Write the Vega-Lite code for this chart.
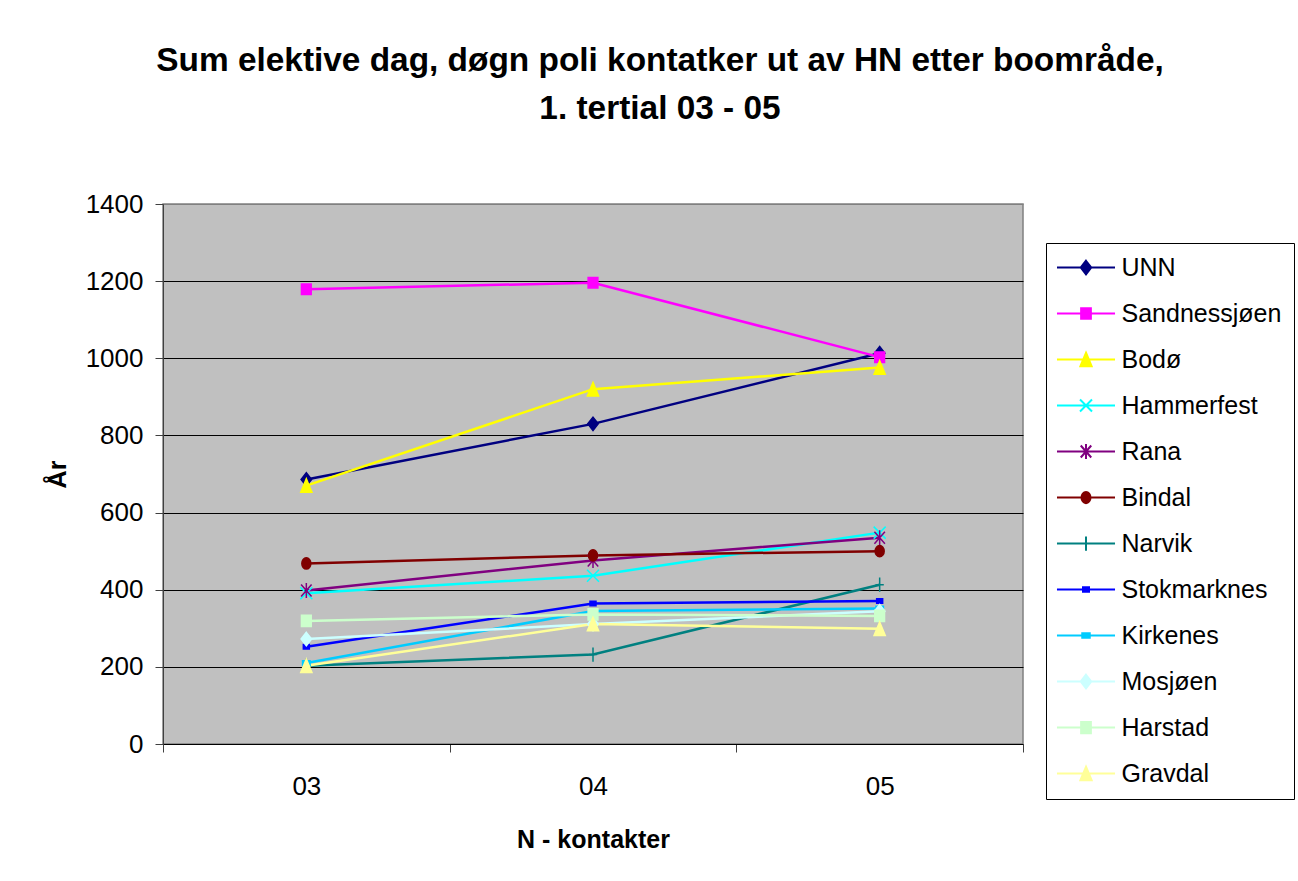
{
  "$schema": "https://vega.github.io/schema/vega-lite/v6.json",
  "width": 860,
  "height": 540,
  "autosize": {"type": "none"},
  "padding": {"left": 163, "top": 204, "right": 275, "bottom": 137},
  "background": "white",
  "title": {
    "text": ["Sum elektive dag, døgn poli kontatker ut av HN etter boområde,", "1. tertial 03 - 05"],
    "font": "Liberation Sans",
    "fontSize": 33.4,
    "fontWeight": "bold",
    "color": "black",
    "anchor": "middle",
    "dx": 67,
    "offset": 65,
    "lineHeight": 48
  },
  "data": {
    "values": [
      {"omrade": "UNN", "ar": "03", "verdi": 686},
      {"omrade": "UNN", "ar": "04", "verdi": 830},
      {"omrade": "UNN", "ar": "05", "verdi": 1013},
      {"omrade": "Sandnessjøen", "ar": "03", "verdi": 1179},
      {"omrade": "Sandnessjøen", "ar": "04", "verdi": 1196},
      {"omrade": "Sandnessjøen", "ar": "05", "verdi": 1003},
      {"omrade": "Bodø", "ar": "03", "verdi": 670},
      {"omrade": "Bodø", "ar": "04", "verdi": 920},
      {"omrade": "Bodø", "ar": "05", "verdi": 976},
      {"omrade": "Hammerfest", "ar": "03", "verdi": 391},
      {"omrade": "Hammerfest", "ar": "04", "verdi": 436},
      {"omrade": "Hammerfest", "ar": "05", "verdi": 548},
      {"omrade": "Rana", "ar": "03", "verdi": 398},
      {"omrade": "Rana", "ar": "04", "verdi": 476},
      {"omrade": "Rana", "ar": "05", "verdi": 535},
      {"omrade": "Bindal", "ar": "03", "verdi": 468},
      {"omrade": "Bindal", "ar": "04", "verdi": 489},
      {"omrade": "Bindal", "ar": "05", "verdi": 500},
      {"omrade": "Narvik", "ar": "03", "verdi": 203},
      {"omrade": "Narvik", "ar": "04", "verdi": 232},
      {"omrade": "Narvik", "ar": "05", "verdi": 413},
      {"omrade": "Stokmarknes", "ar": "03", "verdi": 252},
      {"omrade": "Stokmarknes", "ar": "04", "verdi": 364},
      {"omrade": "Stokmarknes", "ar": "05", "verdi": 371},
      {"omrade": "Kirkenes", "ar": "03", "verdi": 210},
      {"omrade": "Kirkenes", "ar": "04", "verdi": 345},
      {"omrade": "Kirkenes", "ar": "05", "verdi": 351},
      {"omrade": "Mosjøen", "ar": "03", "verdi": 272},
      {"omrade": "Mosjøen", "ar": "04", "verdi": 311},
      {"omrade": "Mosjøen", "ar": "05", "verdi": 344},
      {"omrade": "Harstad", "ar": "03", "verdi": 319},
      {"omrade": "Harstad", "ar": "04", "verdi": 336},
      {"omrade": "Harstad", "ar": "05", "verdi": 332},
      {"omrade": "Gravdal", "ar": "03", "verdi": 203},
      {"omrade": "Gravdal", "ar": "04", "verdi": 311},
      {"omrade": "Gravdal", "ar": "05", "verdi": 299}
    ]
  },
  "encoding": {
    "x": {
      "field": "ar",
      "type": "ordinal",
      "scale": {"type": "band", "paddingInner": 0, "paddingOuter": 0},
      "bandPosition": 0.5,
      "axis": {
        "title": "N - kontakter",
        "labelAngle": 0,
        "labelBaseline": "alphabetic",
        "labelPadding": 42,
        "tickBand": "extent",
        "grid": false,
        "domainColor": "#000000",
        "titleX": 430,
        "titleY": 103,
        "titleBaseline": "alphabetic",
        "titleAlign": "center"
      }
    },
    "y": {
      "field": "verdi",
      "type": "quantitative",
      "scale": {"domain": [0, 1400], "nice": false},
      "axis": {
        "title": "År",
        "format": "d",
        "values": [0, 200, 400, 600, 800, 1000, 1200, 1400],
        "grid": true,
        "gridColor": {"condition": {"test": "datum.value == 1400 || datum.value == 0", "value": "#808080"}, "value": "#000000"},
        "gridWidth": 1,
        "labelPadding": 12,
        "titleAngle": -90,
        "titleX": -106,
        "titleY": 270,
        "titleAlign": "center",
        "titleBaseline": "middle"
      }
    }
  },
  "resolve": {"scale": {"fill": "independent", "stroke": "independent", "shape": "independent"}},
  "layer": [
    {
      "mark": {"type": "line", "strokeWidth": 2.5},
      "encoding": {
        "stroke": {
          "field": "omrade",
          "type": "nominal",
          "legend": null,
          "scale": {
            "domain": ["UNN", "Sandnessjøen", "Bodø", "Hammerfest", "Rana", "Bindal", "Narvik", "Stokmarknes", "Kirkenes", "Mosjøen", "Harstad", "Gravdal"],
            "range": ["#000080", "#FF00FF", "#FFFF00", "#00FFFF", "#800080", "#800000", "#008080", "#0000FF", "#00CCFF", "#CCFFFF", "#CCFFCC", "#FFFF99"]
          }
        }
      }
    },
    {
      "mark": {"type": "point", "filled": true, "opacity": 1, "size": 225, "strokeWidth": 1.5},
      "encoding": {
        "fill": {
          "field": "omrade",
          "type": "nominal",
          "legend": null,
          "scale": {
            "domain": ["UNN", "Sandnessjøen", "Bodø", "Hammerfest", "Rana", "Bindal", "Narvik", "Stokmarknes", "Kirkenes", "Mosjøen", "Harstad", "Gravdal"],
            "range": ["#000080", "#FF00FF", "#FFFF00", "#00FFFF", "#800080", "#800000", "#008080", "#0000FF", "#00CCFF", "#CCFFFF", "#CCFFCC", "#FFFF99"]
          }
        },
        "stroke": {
          "field": "omrade",
          "type": "nominal",
          "legend": null,
          "scale": {
            "domain": ["UNN", "Sandnessjøen", "Bodø", "Hammerfest", "Rana", "Bindal", "Narvik", "Stokmarknes", "Kirkenes", "Mosjøen", "Harstad", "Gravdal"],
            "range": ["#000080", "#FF00FF", "#FFFF00", "#00FFFF", "#800080", "#800000", "#008080", "#0000FF", "#00CCFF", "#CCFFFF", "#CCFFCC", "#FFFF99"]
          }
        },
        "shape": {
          "field": "omrade",
          "type": "nominal",
          "legend": null,
          "scale": {
            "domain": ["UNN", "Sandnessjøen", "Bodø", "Hammerfest", "Rana", "Bindal", "Narvik", "Stokmarknes", "Kirkenes", "Mosjøen", "Harstad", "Gravdal"],
            "range": [
              "M0,-0.9L0.7,0L0,0.9L-0.7,0Z",
              "M-0.65,-0.7H0.65V0.7H-0.65Z",
              "M0,-0.9L0.75,0.9L-0.75,0.9Z",
              "M-0.8,-0.8L0.8,0.8M-0.8,0.8L0.8,-0.8",
              "M-0.7,-0.8L0.7,0.8M-0.7,0.8L0.7,-0.8M0,-1V1",
              "M-0.6,0A0.6,0.75 0 1,0 0.6,0A0.6,0.75 0 1,0 -0.6,0Z",
              "M-0.55,0H0.55M0,-0.95V0.95",
              "M-0.4,-0.3H0.4V0.3H-0.4Z",
              "M-0.5,-0.3H0.5V0.3H-0.5Z",
              "M0,-0.9L0.7,0L0,0.9L-0.7,0Z",
              "M-0.65,-0.75H0.65V0.75H-0.65Z",
              "M0,-0.9L0.75,0.9L-0.75,0.9Z"
            ]
          }
        }
      }
    },
    {
      "transform": [{"filter": "datum.verdi < 0"}],
      "mark": {"type": "point", "filled": true, "opacity": 1, "size": 225, "strokeWidth": 2},
      "encoding": {
        "fill": {
          "field": "omrade",
          "type": "nominal",
          "scale": {
            "domain": ["UNN", "Sandnessjøen", "Bodø", "Hammerfest", "Rana", "Bindal", "Narvik", "Stokmarknes", "Kirkenes", "Mosjøen", "Harstad", "Gravdal"],
            "range": ["#000080", "#FF00FF", "#FFFF00", "#00FFFF", "#800080", "#800000", "#008080", "#0000FF", "#00CCFF", "#CCFFFF", "#CCFFCC", "#FFFF99"]
          },
          "legend": {
            "title": null,
            "orient": "none",
            "legendX": 883,
            "legendY": 39
          }
        },
        "stroke": {
          "field": "omrade",
          "type": "nominal",
          "scale": {
            "domain": ["UNN", "Sandnessjøen", "Bodø", "Hammerfest", "Rana", "Bindal", "Narvik", "Stokmarknes", "Kirkenes", "Mosjøen", "Harstad", "Gravdal"],
            "range": ["#000080", "#FF00FF", "#FFFF00", "#00FFFF", "#800080", "#800000", "#008080", "#0000FF", "#00CCFF", "#CCFFFF", "#CCFFCC", "#FFFF99"]
          }
        },
        "shape": {
          "field": "omrade",
          "type": "nominal",
          "scale": {
            "domain": ["UNN", "Sandnessjøen", "Bodø", "Hammerfest", "Rana", "Bindal", "Narvik", "Stokmarknes", "Kirkenes", "Mosjøen", "Harstad", "Gravdal"],
            "range": [
              "M-3.87,0H3.87M0,-0.9L0.7,0L0,0.9L-0.7,0Z",
              "M-3.87,0H3.87M-0.65,-0.7H0.65V0.7H-0.65Z",
              "M-3.87,0H3.87M0,-0.9L0.75,0.9L-0.75,0.9Z",
              "M-3.87,0H3.87M-0.8,-0.8L0.8,0.8M-0.8,0.8L0.8,-0.8",
              "M-3.87,0H3.87M-0.7,-0.8L0.7,0.8M-0.7,0.8L0.7,-0.8M0,-1V1",
              "M-3.87,0H3.87M-0.6,0A0.6,0.75 0 1,0 0.6,0A0.6,0.75 0 1,0 -0.6,0Z",
              "M-3.87,0H3.87M-0.55,0H0.55M0,-0.95V0.95",
              "M-3.87,0H3.87M-0.4,-0.3H0.4V0.3H-0.4Z",
              "M-3.87,0H3.87M-0.5,-0.3H0.5V0.3H-0.5Z",
              "M-3.87,0H3.87M0,-0.9L0.7,0L0,0.9L-0.7,0Z",
              "M-3.87,0H3.87M-0.65,-0.75H0.65V0.75H-0.65Z",
              "M-3.87,0H3.87M0,-0.9L0.75,0.9L-0.75,0.9Z"
            ]
          }
        }
      }
    }
  ],
  "config": {
    "font": "Liberation Sans",
    "view": {"fill": "#C0C0C0", "stroke": "#808080", "strokeWidth": 1.5},
    "axis": {
      "labelFont": "Liberation Sans",
      "labelFontSize": 26,
      "labelColor": "black",
      "titleFont": "Liberation Sans",
      "titleFontSize": 25,
      "titleFontWeight": "bold",
      "titleColor": "black",
      "tickColor": "#404040",
      "tickSize": 8,
      "domainColor": "#404040"
    },
    "legend": {
      "labelFont": "Liberation Sans",
      "labelFontSize": 25,
      "labelColor": "black",
      "padding": 12,
      "rowPadding": 20,
      "strokeColor": "black",
      "fillColor": "white",
      "symbolSize": 225,
      "symbolStrokeWidth": 2,
      "symbolOffset": 15.5,
      "labelOffset": 23,
      "cornerRadius": 0,
      "labelLimit": 400
    }
  }
}
